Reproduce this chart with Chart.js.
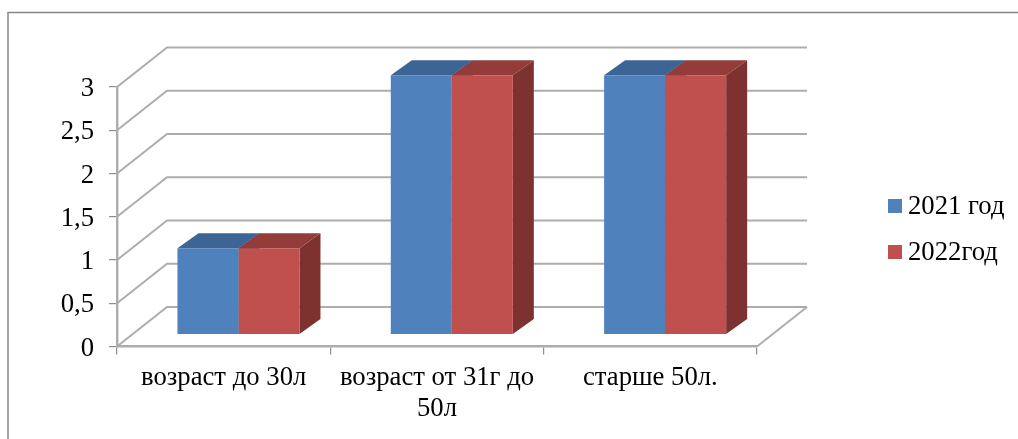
<!DOCTYPE html>
<html>
<head>
<meta charset="utf-8">
<script src="https://cdn.jsdelivr.net/npm/chart.js@4"></script>
<style>
  html, body { margin: 0; padding: 0; background: #fff; }
  #wrap { width: 1018px; height: 439px; }
</style>
</head>
<body>
<div id="wrap"><canvas id="chart"></canvas></div>
<script>
const categories = ['возраст до 30л', ['возраст от 31г до', '50л'], 'старше 50л.'];
const series2021 = [1, 3, 3];
const series2022 = [1, 3, 3];
const seriesNames = ['2021 год', '2022год'];
const frontColors = ['#4f81bd', '#c0504d'];
const topColors = ['#3c6494', '#933c3a'];
const sideColors = ['#335680', '#7d3230'];

const FONT = '"Liberation Serif", "Times New Roman", serif';
const FONT_SIZE = 26.7;
const GRID = '#adadad';
const WALL_DX = 50, WALL_DY = -39.5;   // back wall offset
const BAR_DX = 14.8, BAR_DY = -11.8;   // bars stand in the middle of the floor
const DEPTH_DX = 21, DEPTH_DY = -15;   // depth of a bar

function face(ctx, pts, color) {
  ctx.fillStyle = color;
  ctx.beginPath();
  pts.forEach((p, i) => i ? ctx.lineTo(p[0], p[1]) : ctx.moveTo(p[0], p[1]));
  ctx.closePath();
  ctx.fill();
}

// walls + floor, then top/side faces of the bars
const chart3d = {
  id: 'chart3d',
  beforeDatasetsDraw(chart) {
    const ctx = chart.ctx;
    const { x, y } = chart.scales;
    const left = x.left, right = x.right;

    ctx.save();
    ctx.strokeStyle = '#868686';
    ctx.lineWidth = 1.5;
    ctx.beginPath();
    ctx.moveTo(8, 439);
    ctx.lineTo(8, 12.5);
    ctx.lineTo(1018, 12.5);
    ctx.stroke();

    ctx.strokeStyle = GRID;
    ctx.lineWidth = 2;
    y.ticks.forEach(t => {
      const py = y.getPixelForValue(t.value);
      ctx.beginPath();
      ctx.moveTo(left, py);
      ctx.lineTo(left + WALL_DX, py + WALL_DY);
      ctx.lineTo(right + WALL_DX, py + WALL_DY);
      ctx.stroke();
    });
    const y0 = y.getPixelForValue(0);
    ctx.beginPath();
    ctx.moveTo(right, y0);
    ctx.lineTo(right + WALL_DX, y0 + WALL_DY);
    ctx.stroke();
    ctx.restore();

    // left open until afterDatasetsDraw so the bars get the same shift
    ctx.save();
    ctx.translate(BAR_DX, BAR_DY);
    chart.data.datasets.forEach((ds, i) => {
      chart.getDatasetMeta(i).data.forEach(bar => {
        const l = bar.x - bar.width / 2, r = bar.x + bar.width / 2;
        const t = bar.y, b = bar.base;
        face(ctx, [[r, t], [r + DEPTH_DX, t + DEPTH_DY], [r + DEPTH_DX, b + DEPTH_DY], [r, b]], sideColors[i]);
        face(ctx, [[l, t], [r, t], [r + DEPTH_DX, t + DEPTH_DY], [l + DEPTH_DX, t + DEPTH_DY]], topColors[i]);
      });
    });
  },
  afterDatasetsDraw(chart) {
    chart.ctx.restore();
  },
  afterDraw(chart) {
    const ctx = chart.ctx;
    ctx.save();
    ctx.font = FONT_SIZE + 'px ' + FONT;
    ctx.textBaseline = 'middle';
    seriesNames.forEach((name, i) => {
      const cy = 206 + i * 46;
      ctx.fillStyle = frontColors[i];
      ctx.fillRect(888, cy - 7, 14, 14);
      ctx.fillStyle = '#000';
      ctx.fillText(name, 908, cy + 1);
    });
    ctx.restore();
  }
};

new Chart(document.getElementById('chart'), {
  type: 'bar',
  data: {
    labels: categories,
    datasets: [
      { label: seriesNames[0], data: series2021, backgroundColor: frontColors[0], clip: false },
      { label: seriesNames[1], data: series2022, backgroundColor: frontColors[1], clip: false }
    ]
  },
  options: {
    responsive: true,
    maintainAspectRatio: false,
    animation: false,
    events: [],
    layout: { padding: { top: 87, right: 261, left: 0, bottom: 0 } },
    categoryPercentage: 0.572,
    barPercentage: 1,
    plugins: {
      legend: { display: false },
      tooltip: { enabled: false }
    },
    scales: {
      x: {
        afterFit: s => { s.height = 92.5; },
        grid: { drawOnChartArea: false, tickLength: 8, color: '#8e8e8e', lineWidth: 1.2 },
        border: { color: GRID, width: 2.4 },
        ticks: {
          color: '#000',
          font: { family: FONT, size: FONT_SIZE, lineHeight: 1.17 },
          padding: 8,
          maxRotation: 0,
          autoSkip: false
        }
      },
      y: {
        min: 0,
        max: 3,
        afterFit: s => { s.width = 117; },
        grid: { drawOnChartArea: false, tickLength: 8, color: '#8e8e8e', lineWidth: 1.2 },
        border: { color: GRID, width: 2.4 },
        ticks: {
          stepSize: 0.5,
          color: '#000',
          font: { family: FONT, size: FONT_SIZE },
          padding: 15,
          labelOffset: 2,
          callback: v => String(v).replace('.', ',')
        }
      }
    }
  },
  plugins: [chart3d]
});
</script>
</body>
</html>
